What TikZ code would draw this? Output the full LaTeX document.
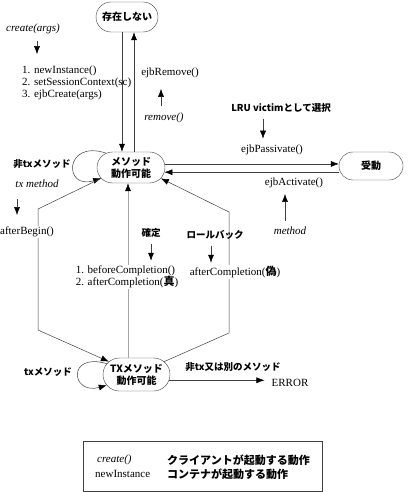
\documentclass[tikz,border=0pt]{standalone}
\usepackage{fontspec}
\setmainfont{Liberation Serif}
\newfontfamily\jp{Noto Sans CJK JP}
\usetikzlibrary{arrows.meta}
\usetikzlibrary{shapes.misc}
\tikzset{state/.style = {draw = black!75, rounded rectangle, inner sep = 0, align = center, font = \jp\bfseries\fontsize{10}{12}\selectfont}}
\tikzset{arr/.style = {-{Latex[length = 8pt, width = 6pt, color = black]}, draw = black!75, line width = 0.5pt}}
\tikzset{lbl/.style = {inner sep = 1pt, font = \fontsize{11}{12}\selectfont}}
\tikzset{ilbl/.style = {inner sep = 1pt, font = \fontsize{11}{12}\selectfont\itshape}}
\tikzset{jlbl/.style = {inner sep = 1pt, font = \jp\bfseries\fontsize{9.5}{11}\selectfont}}
\tikzset{gap/.style = {fill = white}}

\begin{document}
\begin{tikzpicture}[x = 1pt, y = -1pt]
    \useasboundingbox (0, 0) rectangle (408, 492);

    \node [state, minimum width = 62, minimum height = 30] (none) at (127, 17) {存在しない};
    \node [state, minimum width = 68, minimum height = 31] (mr) at (131, 167.5) {メソッド\\動作可能};
    \node [state, minimum width = 64, minimum height = 28] (psv) at (371, 166) {受動};
    \node [state, minimum width = 67, minimum height = 33] (tx) at (136.5, 374.5) {TXメソッド\\動作可能};

    \draw [arr] ([xshift = -5pt]none.south) -- ([xshift = -5pt]none.south |- mr.north);
    \draw [arr] ([xshift = 3pt]mr.north) -- ([xshift = 3pt]mr.north |- none.south);

    \node [ilbl] (crt) at (33, 29) {create(args)};
    \draw [arr] (crt.south) ++(4, 6) -- ++(0, 13);
    \node [lbl, anchor = north west, align = left] (init) at (21, 65) {1. newInstance()\\2. setSessionContext(sc)\\3. ejbCreate(args)};

    \node [lbl] (rmv) at (170, 73) {ejbRemove()};
    \node [ilbl] (rem) at (164, 118) {remove()};
    \draw [arr] (rem.north) ++(-3, -6) -- ++(0, -17);

    \draw [arr] (mr.6) -- (mr.6 -| psv.west);
    \draw [arr] (psv.west |- mr.352) -- (mr.352);
    \node [jlbl] (lru) at (281, 108) {LRU victimとして選択};
    \draw [arr] (lru.south) ++(-18, 5) -- ++(0, 20);
    \node [lbl] (pas) at (272, 150) {ejbPassivate()};
    \node [lbl] (act) at (294, 183) {ejbActivate()};
    \node [ilbl] (mth) at (290, 231) {method};
    \draw [arr] (mth.north) ++(-5, -5) -- ++(0, -27);

    \draw [arr] (mr.150) .. controls +(-42, -14) and +(-38, 12) .. (mr.200);
    \node [jlbl] (ntx) at (42, 164) {非txメソッド};
    \node [ilbl] (txm) at (37, 184) {tx method};
    \draw [arr] (txm.south) ++(-20, 10) -- ++(0, 16);

    \coordinate (abA) at (38, 209);
    \coordinate (abB) at (38, 330);
    \draw [arr] (mr.200) -- (abA) -- (abB) -- (tx.155);
    \node [lbl, gap] (ab) at (27, 232) {afterBegin()};

    \draw [arr, draw = black!35] ([xshift = -8.5pt]tx.north) -- ([xshift = -3pt]mr.south);
    \node [jlbl] (cmt) at (151, 233) {確定};
    \draw [arr] (cmt.south) ++(0, 5) -- ++(0, 17);
    \node [lbl, gap, align = left] (bc) at (127, 277) {1. beforeCompletion()\\2. afterCompletion({\jp\bfseries 真})};

    \coordinate (rbA) at (229, 212);
    \coordinate (rbB) at (229, 333);
    \draw [arr] (tx.25) -- (rbB) -- (rbA) -- (mr.340);
    \node [jlbl] (rb) at (215, 235) {ロールバック};
    \draw [arr] (rb.south) ++(-4, 5) -- ++(0, 17);
    \node [lbl, gap] (af) at (235, 272) {afterCompletion({\jp\bfseries 偽})};

    \draw [arr] (tx.160) .. controls +(-40, -12) and +(-36, 10) .. (tx.200);
    \node [jlbl] (txl) at (48, 372) {txメソッド};
    \node [jlbl] (ntx2) at (233, 367) {非tx又は別のメソッド};
    \node [lbl] (err) at (290, 383) {ERROR};
    \draw [arr, shorten >= 6pt] (tx.350) -- (tx.350 -| err.west);

    \node [draw = black!75, minimum width = 239, minimum height = 50, inner sep = 0] (lgd) at (202.5, 466) {};
    \node [ilbl, anchor = west] (lg1) at (96, 460) {create()};
    \node [lbl, anchor = west] (lg2) at (94, 474) {newInstance};
    \node [jlbl, anchor = west, font = \jp\bfseries\fontsize{11}{12}\selectfont] (lg3) at (166, 460) {クライアントが起動する動作};
    \node [jlbl, anchor = west, font = \jp\bfseries\fontsize{11}{12}\selectfont] (lg4) at (166, 474) {コンテナが起動する動作};

\end{tikzpicture}
\end{document}
